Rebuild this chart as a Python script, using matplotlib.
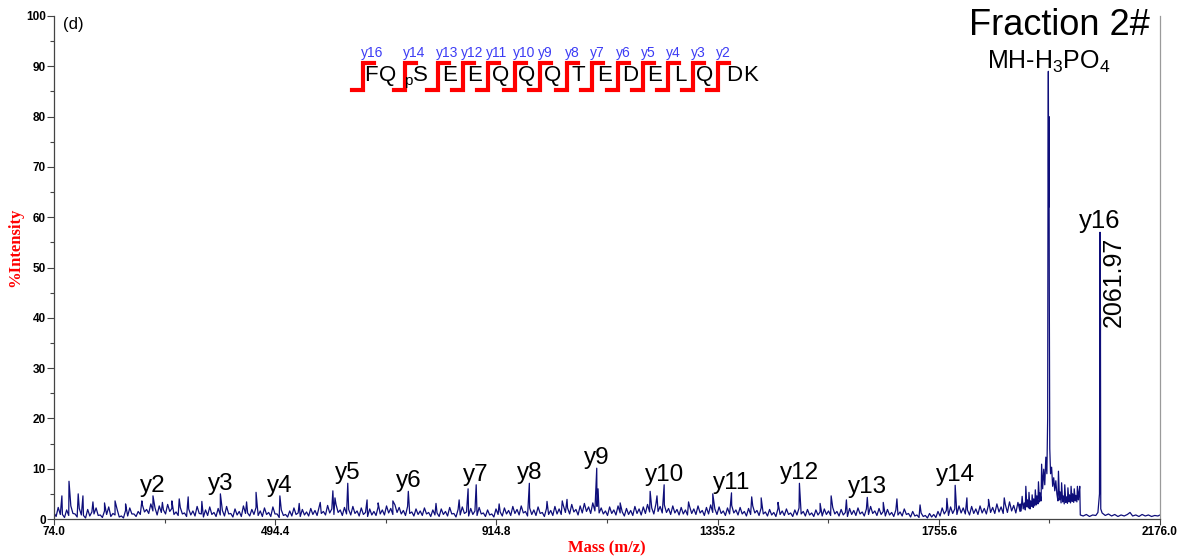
import numpy as np
import matplotlib
matplotlib.use("Agg")
import matplotlib.pyplot as plt
from matplotlib.ticker import FixedLocator, MultipleLocator, FormatStrFormatter

plt.rcParams['font.family'] = ['Liberation Sans', 'DejaVu Sans']
plt.rcParams['mathtext.default'] = 'regular'

# baseline noise, read every 8 Da from m/z 74 (upper excursions)
noise_start = 74.0
noise_step = 8.0
noise_hi = [1.2, 2.3, 0.9, 1.8, 2.6, 1.0, 2.1, 0.7, 1.9, 1.4,
            2.2, 0.8, 1.6, 2.4, 1.1, 1.9, 0.6, 1.7, 2.2, 1.0,
            1.5, 2.8, 1.9, 3.0, 2.2, 2.6, 1.8, 2.9, 2.1, 1.4,
            2.3, 1.2, 2.0, 1.6, 2.5, 1.0, 1.8, 2.4, 1.3, 2.1,
            1.7, 2.5, 1.1, 2.0, 1.5, 2.6, 1.2, 1.9, 2.3, 1.6,
            2.2, 1.3, 2.4, 1.0, 1.8, 0.9, 1.6, 2.2, 1.2, 1.9,
            1.4, 2.1, 1.7, 2.4, 1.5, 2.7, 2.0, 2.9, 1.8, 2.3,
            1.9, 2.5, 1.6, 2.2, 1.3, 2.0, 1.5, 2.4, 1.8, 2.6,
            2.1, 2.8, 2.3, 1.7, 2.5, 1.4, 2.0, 1.6, 2.2, 1.3,
            1.8, 1.2, 2.0, 1.5, 2.3, 1.1, 1.9, 2.4, 1.4, 2.1,
            1.6, 2.3, 1.2, 1.8, 1.0, 2.0, 1.4, 2.2, 1.7, 2.5,
            1.9, 2.6, 1.5, 2.2, 1.8, 2.4, 1.3, 2.1, 1.7, 2.5,
            2.0, 2.7, 2.2, 2.9, 1.9, 2.6, 3.1, 2.4, 3.2, 2.5,
            2.2, 1.6, 2.4, 1.8, 2.6, 1.4, 2.1, 1.7, 2.5, 2.0,
            2.4, 2.9, 2.2, 3.0, 2.5, 2.8, 2.1, 2.6, 1.9, 2.3,
            1.8, 2.5, 2.0, 2.6, 1.7, 2.3, 2.8, 2.0, 2.4, 1.6,
            2.2, 2.7, 1.8, 2.3, 1.5, 2.1, 2.6, 1.7, 2.2, 1.4,
            1.9, 1.3, 2.1, 1.6, 2.0, 1.2, 1.8, 2.2, 1.5, 1.9,
            1.2, 1.8, 1.4, 2.0, 1.6, 2.3, 1.5, 1.9, 1.3, 2.1,
            1.7, 2.2, 1.4, 2.0, 2.5, 1.6, 2.1, 1.5, 1.9, 1.3,
            1.8, 1.4, 2.0, 1.1, 1.5, 0.8, 1.2, 0.7, 1.1, 0.9,
            1.5, 2.2, 1.7, 2.4, 2.0, 2.6, 2.2, 1.8, 2.5, 2.0,
            2.6, 2.1, 2.8, 2.3, 3.0, 2.4, 2.9, 3.4, 2.7, 3.3]

# lower excursions, read 4 Da after each of the above
noise_lo = [0.5, 0.9, 0.3, 0.7, 1.1, 0.4, 0.8, 0.2, 0.6, 1.0,
            0.7, 0.3, 0.9, 0.5, 0.8, 0.4, 0.2, 0.6, 1.0, 0.5,
            0.9, 1.4, 1.1, 1.6, 0.8, 1.3, 1.0, 1.5, 0.9, 0.7,
            1.0, 0.5, 0.8, 0.6, 1.1, 0.4, 0.7, 0.9, 0.5, 0.8,
            0.6, 1.0, 0.4, 0.8, 0.5, 1.1, 0.6, 0.9, 0.7, 0.5,
            0.9, 0.5, 1.0, 0.3, 0.7, 0.4, 0.6, 0.9, 0.5, 0.8,
            0.6, 0.9, 0.7, 1.1, 0.8, 1.2, 0.9, 1.3, 0.7, 1.0,
            0.8, 1.1, 0.6, 0.9, 0.5, 0.8, 0.7, 1.0, 0.8, 1.2,
            0.9, 1.3, 1.0, 0.7, 1.1, 0.6, 0.9, 0.7, 1.0, 0.5,
            0.8, 0.5, 0.9, 0.6, 1.0, 0.4, 0.8, 1.1, 0.6, 0.9,
            0.7, 1.0, 0.5, 0.8, 0.4, 0.9, 0.6, 1.0, 0.7, 1.1,
            0.8, 1.2, 0.6, 0.9, 0.7, 1.1, 0.5, 0.9, 0.7, 1.0,
            0.9, 1.3, 1.0, 1.4, 0.8, 1.2, 1.5, 1.1, 1.6, 1.2,
            1.0, 0.7, 1.1, 0.8, 1.2, 0.6, 0.9, 0.7, 1.1, 0.8,
            1.1, 1.4, 1.0, 1.5, 1.2, 1.3, 0.9, 1.2, 0.8, 1.0,
            0.8, 1.1, 0.9, 1.2, 0.7, 1.0, 1.3, 0.9, 1.1, 0.7,
            1.0, 1.2, 0.8, 1.0, 0.6, 0.9, 1.2, 0.7, 1.0, 0.6,
            0.8, 0.5, 0.9, 0.7, 0.9, 0.5, 0.8, 1.0, 0.6, 0.8,
            0.5, 0.8, 0.6, 0.9, 0.7, 1.0, 0.6, 0.8, 0.5, 0.9,
            0.7, 1.0, 0.6, 0.9, 1.1, 0.7, 0.9, 0.6, 0.8, 0.5,
            0.8, 0.6, 0.9, 0.4, 0.6, 0.3, 0.5, 0.2, 0.4, 0.3,
            0.6, 1.0, 0.7, 1.1, 0.9, 1.2, 1.0, 0.8, 1.1, 0.9,
            1.2, 1.0, 1.3, 1.1, 1.4, 1.1, 1.3, 1.6, 1.2, 1.5]

# isolated noise spikes
spike_mz = [89, 102.5, 120, 129, 148, 170, 190, 210, 241, 280, 298, 312, 329, 355,
            440, 458, 540, 580, 604, 608, 669, 690, 718, 800, 844, 861, 920, 1011,
            1040, 1049, 1108, 1150, 1207, 1220, 1280, 1326, 1400, 1418, 1450, 1530,
            1551, 1580, 1650, 1676, 1720, 1771, 1809, 1850, 1880]
spike_int = [4.6, 7.5, 5.0, 4.6, 3.4, 3.2, 3.6, 3.0, 3.6, 3.3, 3.6, 4.0, 4.4, 3.5,
             3.4, 5.3, 3.1, 3.3, 5.6, 4.2, 3.8, 3.2, 3.6, 3.1, 3.8, 6.0, 3.0, 3.5,
             3.6, 3.9, 6.0, 3.2, 5.5, 4.6, 3.4, 5.0, 4.4, 4.2, 3.3, 3.1,
             4.6, 3.8, 3.3, 4.0, 2.8, 4.1, 4.2, 3.9, 4.2]

# labelled y-ion fragments
ion_names = ['y2', 'y3', 'y4', 'y5', 'y6', 'y7', 'y8', 'y9', 'y10', 'y11', 'y12', 'y13', 'y14']
ion_mz = [262.1, 390.2, 503.3, 632.3, 747.4, 876.4, 977.4, 1105.5, 1233.6, 1361.6, 1490.7, 1619.7, 1786.7]
ion_int = [4.6, 5.0, 4.6, 7.1, 5.5, 6.8, 7.1, 10.1, 6.8, 5.2, 7.1, 4.3, 6.7]

# cluster around the neutral-loss peak (MH-H3PO4)
cluster_mz = [1910, 1912, 1914, 1916, 1918, 1920, 1921, 1923, 1924, 1926, 1927, 1929, 1930,
              1932, 1933, 1935, 1936, 1938, 1939, 1941, 1942, 1944, 1945, 1947, 1948, 1950,
              1951, 1953, 1955, 1957, 1959, 1961, 1962.5, 1963.2, 1963.8, 1964.4, 1965.0,
              1965.6, 1966.5, 1968, 1970, 1972, 1974, 1976, 1978, 1980, 1982, 1983, 1985,
              1986, 1988, 1989, 1991, 1992, 1994, 1995, 1997, 1998, 2000, 2001, 2003, 2004,
              2006, 2007, 2009, 2010, 2012, 2013, 2015, 2016, 2018, 2019, 2021, 2022,
              2023.5, 2024.5]
cluster_int = [3.0, 1.6, 4.5, 2.0, 3.2, 1.8, 6.5, 2.4, 3.8, 2.2, 5.3, 2.0, 3.6,
               2.5, 4.8, 2.3, 4.0, 2.6, 5.8, 2.8, 4.6, 3.0, 7.4, 3.4, 5.2, 3.6,
               10.9, 6.0, 9.9, 6.8, 12.3, 9.0, 20.0, 71.0, 89.0, 62.0, 80.0,
               45.0, 14.0, 9.0, 10.3, 6.5, 8.2, 5.6, 7.6, 5.0, 3.6, 9.5, 3.8,
               5.4, 3.2, 7.2, 3.4, 4.6, 3.0, 6.8, 3.3, 4.4, 3.1, 6.2, 3.4, 4.8,
               3.2, 6.5, 3.5, 5.0, 3.3, 6.0, 3.6, 4.7, 3.4, 6.5, 3.8, 5.2,
               6.5, 0.8]

# precursor region (y16) and the flat tail
tail_mz = [2030, 2036, 2042, 2048, 2054, 2058, 2061.0, 2061.6, 2061.97, 2062.4, 2062.8, 2063.4,
           2066, 2072, 2078, 2084, 2090, 2096, 2102, 2108, 2114, 2119, 2124, 2130, 2136,
           2142, 2148, 2154, 2160, 2166, 2172, 2176]
tail_int = [0.6, 0.9, 0.5, 0.8, 0.7, 1.3, 5.0, 36.0, 57.0, 21.0, 40.0, 2.0,
            1.2, 0.7, 1.0, 0.6, 0.9, 0.5, 0.8, 0.6, 0.9, 1.3, 0.6, 0.8, 0.5,
            0.9, 0.6, 0.8, 0.5, 0.7, 0.6, 0.8]

y16_mz, y16_int = 2061.97, 57.0
loss_mz, loss_int = 1963.8, 89.0

# sequence annotation
residues = ['F', 'Q', 'pS', 'E', 'E', 'Q', 'Q', 'Q', 'T', 'E', 'D', 'E', 'L', 'Q', 'D', 'K']
seq_ions = [16, 14, 13, 12, 11, 10, 9, 8, 7, 6, 5, 4, 3, 2]

xmin, xmax = 74.0, 2176.0

hi_mz = noise_start + noise_step * np.arange(len(noise_hi))
lo_mz = hi_mz[:len(noise_lo)] + noise_step / 2
mz = np.concatenate([hi_mz, lo_mz, spike_mz, ion_mz, cluster_mz, tail_mz])
inten = np.concatenate([noise_hi, noise_lo, spike_int, ion_int, cluster_int, tail_int])
order = np.argsort(mz, kind='stable')

fig = plt.figure(figsize=(11.88, 5.57), dpi=100)
ax = fig.add_axes([54 / 1188, 38 / 557, 1106 / 1188, 503 / 557])

ax.plot(mz[order], inten[order], color='#0e0e7a', lw=0.9)

ax.set_xlim(xmin, xmax)
ax.set_ylim(0, 100)

# axes styling
ax.spines['top'].set_visible(False)
ax.spines['right'].set_color('#9a9a9a')
ax.spines['left'].set_color('#444444')
ax.spines['bottom'].set_color('#444444')
for s in ax.spines.values():
    s.set_linewidth(0.9)

xstep = (xmax - xmin) / 5
ax.xaxis.set_major_locator(FixedLocator([xmin + xstep * k for k in range(6)]))
ax.xaxis.set_minor_locator(FixedLocator([xmin + xstep * (k + 0.5) for k in range(5)]))
ax.xaxis.set_major_formatter(FormatStrFormatter('%.1f'))
ax.yaxis.set_major_locator(MultipleLocator(10))
ax.yaxis.set_minor_locator(MultipleLocator(5))
ax.tick_params(axis='both', which='major', labelsize=8.5, color='#444444', length=4, width=0.8, pad=1)
ax.tick_params(axis='both', which='minor', color='#444444', length=3, width=0.8)
ax.tick_params(axis='y', which='major', length=5)
for lab in ax.get_xticklabels() + ax.get_yticklabels():
    lab.set_fontweight('bold')

ax.set_xlabel('Mass (m/z)', family='Liberation Serif', fontweight='bold', color='red', fontsize=12, labelpad=2)
ax.set_ylabel('%Intensity', family='Liberation Serif', fontweight='bold', color='red', fontsize=12)
ax.yaxis.set_label_coords(-0.028, 0.54)

# peak labels
for name, x, y in zip(ion_names, ion_mz, ion_int):
    ax.text(x, y + 0.8, name, ha='center', va='baseline', fontsize=17.5)
ax.text(y16_mz, y16_int + 0.8, 'y16', ha='center', va='baseline', fontsize=18.5)
ax.text(y16_mz + 3, y16_int - 0.8, '2061.97', rotation=90, ha='left', va='top', fontsize=18)
ax.text(loss_mz, loss_int - 0.8, r'MH-H$_3$PO$_4$', ha='center', va='bottom', fontsize=18)

ax.text(0.991, 1.016, 'Fraction 2#', transform=ax.transAxes, ha='right', va='top', fontsize=26)
ax.text(0.008, 0.998, '(d)', transform=ax.transAxes, ha='left', va='top', fontsize=12)

# sequence with y-ion cleavage markers (pixel layout converted to axes fraction)
def fx(px):
    return (px - 54) / 1106

res_px = [371, 388, 415, 450, 475, 501, 527, 553, 578, 605, 630, 655, 680, 705, 734, 751]
cut_px = [363, 405, 438, 463, 488, 515, 540, 567, 592, 618, 643, 668, 693, 718]
seq_y = 0.882
for r, px in zip(residues, res_px):
    if r == 'pS':
        ax.text(fx(px - 7), seq_y - 0.012, 'p', transform=ax.transAxes, ha='center', va='center', fontsize=11)
        ax.text(fx(px + 5), seq_y, 'S', transform=ax.transAxes, ha='center', va='center', fontsize=16)
    else:
        ax.text(fx(px), seq_y, r, transform=ax.transAxes, ha='center', va='center', fontsize=16)

top_y, bot_y = 0.907, 0.853
arm = 11
for n, px in zip(seq_ions, cut_px):
    ax.plot([fx(px - arm), fx(px), fx(px), fx(px + arm)], [bot_y, bot_y, top_y, top_y],
            color='red', lw=3, transform=ax.transAxes, clip_on=False, solid_joinstyle='miter')
    ax.text(fx(px - 2), 0.913, 'y%d' % n, transform=ax.transAxes, ha='left', va='bottom',
            fontsize=10, color='#3c3cf5')

fig.savefig('out.png', dpi=100)
